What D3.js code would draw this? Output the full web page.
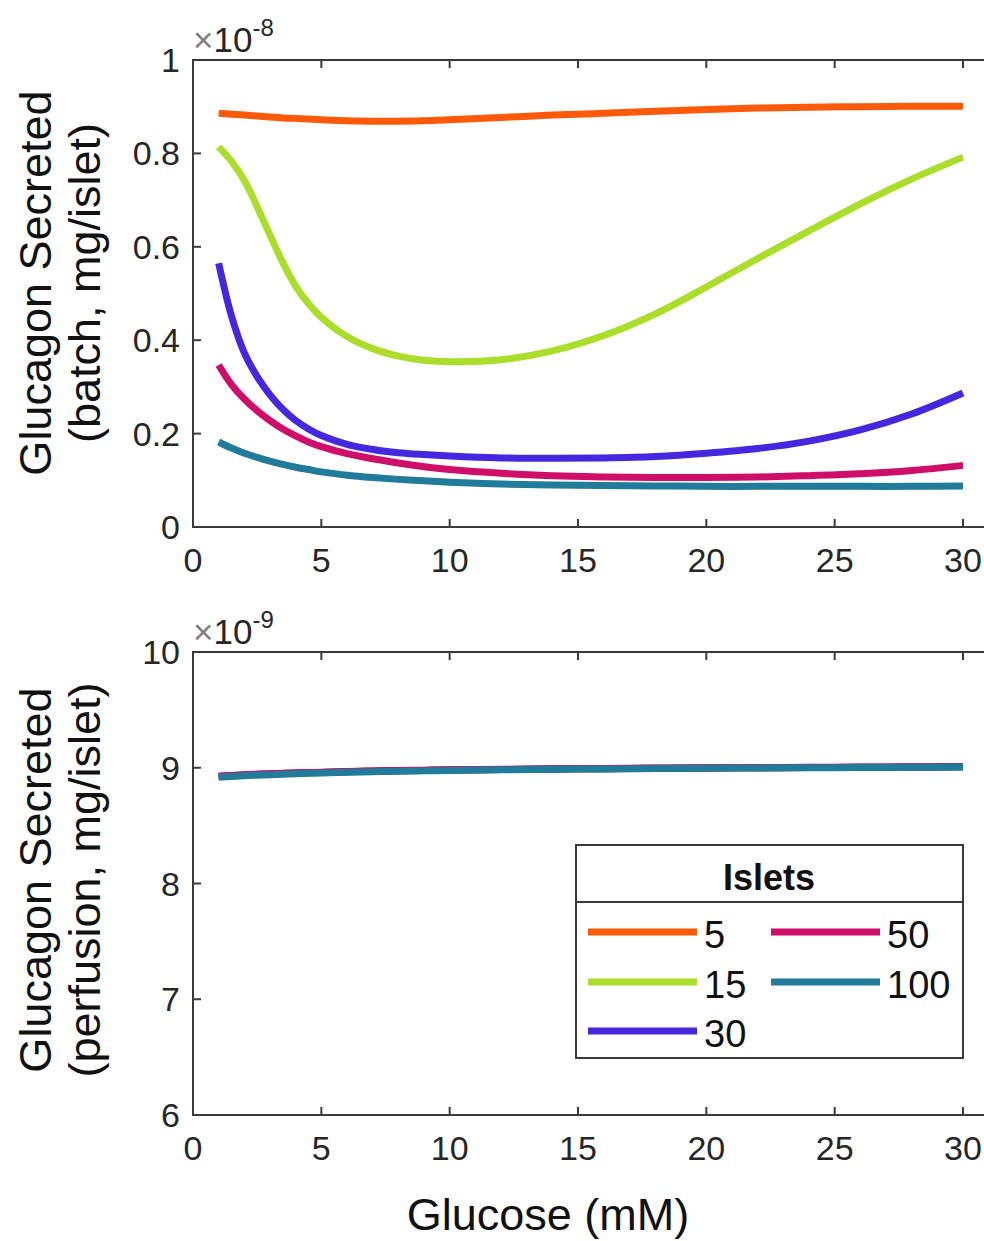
<!DOCTYPE html>
<html>
<head>
<meta charset="utf-8">
<script src="https://cdn.jsdelivr.net/npm/d3@7"></script>
<style>
  body { margin: 0; background: #fff; }
  svg { font-family: "Liberation Sans", Arial, sans-serif; }
</style>
</head>
<body>
<svg id="chart" width="984" height="1241"></svg>
<script>
// glucose values (mM)
var glucose = [1, 1.5, 2, 2.5, 3, 3.5, 4, 4.5, 5, 6, 7, 8, 9, 10, 12, 14, 16, 18, 20, 22, 24, 26, 28, 30];

// batch secretion, x1e-8 mg/islet
var batch5   = [0.886, 0.884, 0.882, 0.880, 0.878, 0.876, 0.875, 0.8735, 0.872, 0.870, 0.869, 0.869, 0.870, 0.872, 0.877, 0.882, 0.886, 0.890, 0.894, 0.897, 0.899, 0.900, 0.901, 0.901];
var batch15  = [0.814, 0.783, 0.742, 0.686, 0.625, 0.566, 0.516, 0.478, 0.449, 0.408, 0.382, 0.366, 0.357, 0.354, 0.358, 0.377, 0.410, 0.456, 0.514, 0.575, 0.634, 0.692, 0.745, 0.792];
var batch30  = [0.565, 0.452, 0.373, 0.322, 0.283, 0.252, 0.228, 0.210, 0.196, 0.177, 0.166, 0.159, 0.155, 0.152, 0.148, 0.147, 0.148, 0.151, 0.158, 0.168, 0.184, 0.208, 0.242, 0.287];
var batch50  = [0.347, 0.305, 0.274, 0.249, 0.228, 0.210, 0.195, 0.182, 0.172, 0.157, 0.146, 0.137, 0.129, 0.123, 0.115, 0.110, 0.107, 0.106, 0.106, 0.107, 0.110, 0.114, 0.121, 0.132];
var batch100 = [0.182, 0.169, 0.158, 0.149, 0.141, 0.134, 0.128, 0.123, 0.118, 0.111, 0.106, 0.102, 0.099, 0.096, 0.092, 0.090, 0.089, 0.088, 0.087, 0.087, 0.087, 0.087, 0.087, 0.088];

// perfusion secretion, x1e-9 mg/islet (curves overlap, teal drawn last)
var perf5   = [8.924, 8.931, 8.937, 8.942, 8.946, 8.950, 8.953, 8.957, 8.960, 8.965, 8.970, 8.974, 8.977, 8.980, 8.985, 8.989, 8.992, 8.995, 8.998, 9.000, 9.002, 9.004, 9.006, 9.008];
var perf15  = [8.924, 8.931, 8.937, 8.942, 8.946, 8.950, 8.953, 8.957, 8.960, 8.965, 8.970, 8.974, 8.977, 8.980, 8.985, 8.989, 8.992, 8.995, 8.998, 9.000, 9.002, 9.004, 9.006, 9.008];
var perf30  = [8.924, 8.931, 8.937, 8.942, 8.946, 8.950, 8.953, 8.957, 8.960, 8.965, 8.970, 8.974, 8.977, 8.980, 8.985, 8.989, 8.992, 8.995, 8.998, 9.000, 9.002, 9.004, 9.006, 9.008];
var perf50  = [8.926, 8.934, 8.940, 8.945, 8.949, 8.953, 8.956, 8.959, 8.962, 8.967, 8.972, 8.976, 8.979, 8.982, 8.987, 8.991, 8.994, 8.997, 9.000, 9.002, 9.004, 9.006, 9.008, 9.010];
var perf100 = [8.918, 8.925, 8.931, 8.936, 8.940, 8.944, 8.948, 8.952, 8.955, 8.961, 8.966, 8.970, 8.974, 8.977, 8.982, 8.986, 8.990, 8.993, 8.996, 8.998, 9.000, 9.002, 9.004, 9.006];

var islets = ["5", "15", "30", "50", "100"];
var colors = ["#ff5a0a", "#aade2a", "#4328e0", "#cf0e6a", "#217b9b"];
var xTicks = [0, 5, 10, 15, 20, 25, 30];
var topTicks = [0, 0.2, 0.4, 0.6, 0.8, 1];
var botTicks = [6, 7, 8, 9, 10];

var svg = d3.select("#chart");
var axisColor = "#3a3a3a";
var textColor = "#262626";

var x = d3.scaleLinear().domain([0, 30]).range([193, 963]);
var xEnd = 1000; // right edge of the box lies outside the picture

function panel(y, ticks, series, exponent, label1, label2, labelY) {
  var g = svg.append("g");
  var y0 = y.range()[0], y1 = y.range()[1];

  // lines
  var line = d3.line()
    .x(function(d) { return x(d[0]); })
    .y(function(d) { return y(d[1]); })
    .curve(d3.curveCatmullRom.alpha(0.5));
  series.forEach(function(s, i) {
    g.append("path")
      .datum(glucose.map(function(gv, j) { return [gv, s[j]]; }))
      .attr("fill", "none")
      .attr("stroke", colors[i])
      .attr("stroke-width", 7)
      .attr("d", line);
  });

  // box
  g.append("path")
    .attr("d", "M" + xEnd + "," + y1 + "H193V" + y0 + "H" + xEnd)
    .attr("fill", "none").attr("stroke", axisColor).attr("stroke-width", 2);

  // x ticks (bottom and top, inward)
  xTicks.forEach(function(t) {
    g.append("line").attr("x1", x(t)).attr("x2", x(t)).attr("y1", y0).attr("y2", y0 - 8)
      .attr("stroke", axisColor).attr("stroke-width", 2);
    g.append("line").attr("x1", x(t)).attr("x2", x(t)).attr("y1", y1).attr("y2", y1 + 8)
      .attr("stroke", axisColor).attr("stroke-width", 2);
    g.append("text").attr("x", x(t)).attr("y", y0 + 45)
      .attr("text-anchor", "middle").attr("font-size", 34).attr("fill", textColor)
      .text(t);
  });

  // y ticks
  ticks.forEach(function(t) {
    g.append("line").attr("x1", 193).attr("x2", 201).attr("y1", y(t)).attr("y2", y(t))
      .attr("stroke", axisColor).attr("stroke-width", 2);
    g.append("text").attr("x", 180).attr("y", y(t) + 12)
      .attr("text-anchor", "end").attr("font-size", 34).attr("fill", textColor)
      .text(t);
  });

  // exponent label
  var ex = g.append("text").attr("x", 193).attr("y", y1 - 8).attr("font-size", 35);
  ex.append("tspan").attr("fill", "#808080").text("\u00d7");
  ex.append("tspan").attr("fill", textColor).text("10");
  ex.append("tspan").attr("fill", textColor).attr("font-size", 24).attr("dy", -16).text(exponent);

  // y label
  var yl = g.append("text")
    .attr("transform", "translate(51," + labelY + ") rotate(-90)")
    .attr("text-anchor", "middle").attr("font-size", 45).attr("fill", "#111");
  yl.append("tspan").attr("x", 0).attr("dy", 0).text(label1);
  yl.append("tspan").attr("x", 0).attr("dy", 49).text(label2);
  return g;
}

var yTop = d3.scaleLinear().domain([0, 1]).range([527, 60]);
var yBot = d3.scaleLinear().domain([6, 10]).range([1115, 652]);

panel(yTop, topTicks, [batch5, batch15, batch30, batch50, batch100], "-8",
  "Glucagon Secreted", "(batch, mg/islet)", 283);
panel(yBot, botTicks, [perf5, perf15, perf30, perf50, perf100], "-9",
  "Glucagon Secreted", "(perfusion, mg/islet)", 880);

// x label
svg.append("text").attr("x", 548).attr("y", 1230)
  .attr("text-anchor", "middle").attr("font-size", 45).attr("fill", "#111")
  .text("Glucose (mM)");

// legend
var lg = svg.append("g");
lg.append("rect").attr("x", 576).attr("y", 845).attr("width", 387).attr("height", 213)
  .attr("fill", "#fff").attr("stroke", axisColor).attr("stroke-width", 2);
lg.append("line").attr("x1", 576).attr("x2", 963).attr("y1", 902).attr("y2", 902)
  .attr("stroke", axisColor).attr("stroke-width", 2);
lg.append("text").attr("x", 769).attr("y", 890).attr("text-anchor", "middle")
  .attr("font-size", 36).attr("font-weight", "bold").attr("fill", "#111").text("Islets");

var rowY = [932, 982, 1031];
var colX = [588, 771];
islets.forEach(function(name, i) {
  var col = i < 3 ? 0 : 1;
  var row = i < 3 ? i : i - 3;
  lg.append("line").attr("x1", colX[col]).attr("x2", colX[col] + 109)
    .attr("y1", rowY[row]).attr("y2", rowY[row])
    .attr("stroke", colors[i]).attr("stroke-width", 7);
  lg.append("text").attr("x", colX[col] + 116).attr("y", rowY[row] + 16)
    .attr("font-size", 38).attr("fill", "#111").text(name);
});
</script>
</body>
</html>
